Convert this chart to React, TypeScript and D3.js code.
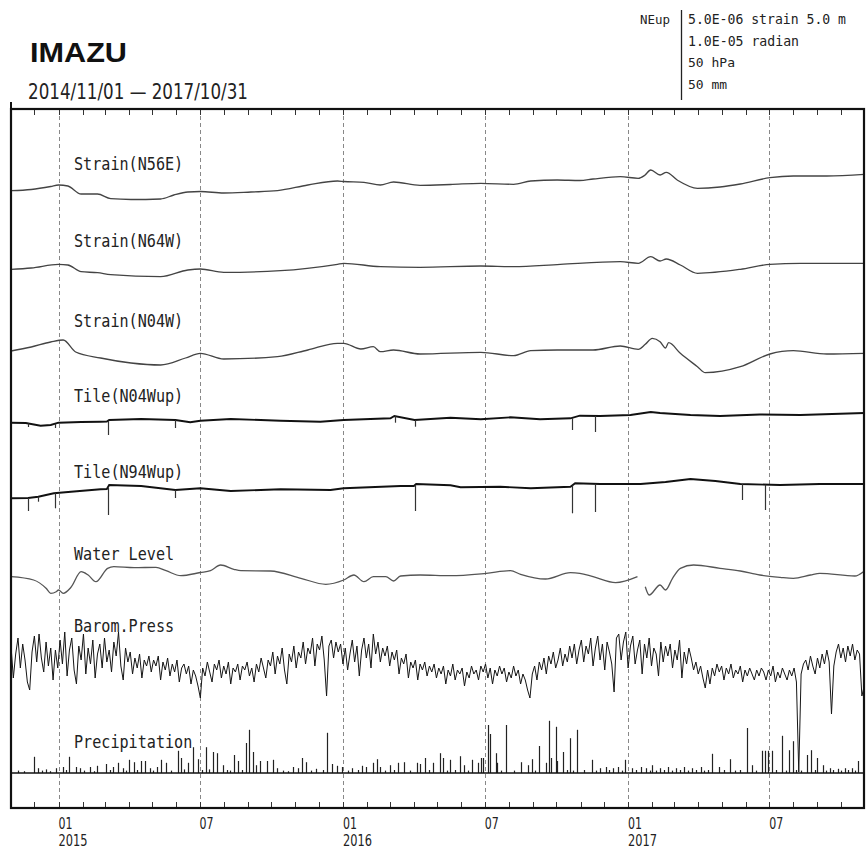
import React from "react";
import * as d3 from "d3";

type Pt = [string, number | null];

const PERIOD = ["2014-11-01", "2017-11-01"];
const TITLE = "IMAZU";
const RANGE_TEXT = "2014/11/01 — 2017/10/31";
const SCALE_LINES = ["5.0E-06 strain 5.0 m", "1.0E-05 radian", "50 hPa", "50 mm"];
const SCALE_WIDTHS = [158, 111, 0, 0];

const LABEL_DATES = ["2015-01-01", "2015-07-01", "2016-01-01", "2016-07-01", "2017-01-01", "2017-07-01"];
const LABEL_MONTHS = ["01", "07", "01", "07", "01", "07"];
const LABEL_YEARS = ["2015", "", "2016", "", "2017", ""];

const PANEL_NAMES = ["Strain(N56E)", "Strain(N64W)", "Strain(N04W)", "Tile(N04Wup)", "Tile(N94Wup)", "Water Level", "Barom.Press", "Precipitation"];

// strain, 1e-6
const STRAIN_N56E: Pt[] = [
  ["2014-11-01", -0.57], ["2014-11-27", -0.45], ["2014-12-22", -0.15], ["2015-01-01", 0], ["2015-01-13", -0.1],
  ["2015-01-30", -0.9], ["2015-02-20", -0.9], ["2015-03-09", -1.37], ["2015-04-04", -1.45], ["2015-05-12", -1.4],
  ["2015-05-29", -1.0], ["2015-06-16", -0.7], ["2015-07-02", -0.65], ["2015-08-01", -0.8], ["2015-09-05", -0.7],
  ["2015-10-09", -0.57], ["2015-11-17", 0], ["2015-12-25", 0.4], ["2016-01-02", 0.35], ["2016-01-28", 0.27],
  ["2016-02-18", 0], ["2016-03-06", 0.3], ["2016-04-09", -0.03], ["2016-05-18", 0.05], ["2016-06-26", 0.17],
  ["2016-08-07", 0.07], ["2016-08-29", 0.4], ["2016-10-02", 0.5], ["2016-10-31", 0.45], ["2016-11-17", 0.6],
  ["2016-12-22", 0.83], ["2017-01-14", 0.67], ["2017-01-22", 0.95], ["2017-01-30", 1.5], ["2017-02-11", 1.0],
  ["2017-02-19", 1.27], ["2017-03-05", 0.5], ["2017-03-31", -0.33], ["2017-04-29", -0.2], ["2017-05-25", 0.1],
  ["2017-07-02", 0.73], ["2017-08-01", 0.9], ["2017-09-13", 0.9], ["2017-10-31", 1.07],
];
const STRAIN_N64W: Pt[] = [
  ["2014-11-01", -0.43], ["2014-11-27", -0.3], ["2015-01-01", 0.07], ["2015-01-13", 0], ["2015-01-30", -0.67],
  ["2015-02-20", -0.77], ["2015-03-09", -0.97], ["2015-05-12", -1.17], ["2015-06-16", -0.5], ["2015-07-02", -0.4],
  ["2015-08-01", -0.73], ["2015-10-13", -0.57], ["2015-12-25", 0.07], ["2016-01-02", 0.17], ["2016-02-18", -0.17],
  ["2016-04-09", -0.23], ["2016-06-26", -0.1], ["2016-08-07", -0.17], ["2016-10-06", 0.07], ["2016-12-22", 0.33],
  ["2017-01-14", 0.17], ["2017-01-30", 0.83], ["2017-02-11", 0.4], ["2017-02-19", 0.6], ["2017-03-09", 0],
  ["2017-03-31", -0.83], ["2017-05-25", -0.43], ["2017-07-02", 0.07], ["2017-08-10", 0.17], ["2017-10-31", 0.17],
];
const STRAIN_N04W: Pt[] = [
  ["2014-11-01", 0.2], ["2014-11-27", 0.6], ["2014-12-22", 1.1], ["2015-01-07", 1.3], ["2015-01-23", 0.1],
  ["2015-02-24", -0.5], ["2015-04-04", -1.0], ["2015-05-12", -1.2], ["2015-06-13", -0.5], ["2015-07-02", -0.03],
  ["2015-08-01", -0.6], ["2015-10-09", -0.37], ["2015-11-17", 0.3], ["2015-12-25", 0.97], ["2016-01-02", 0.97],
  ["2016-01-24", 0.4], ["2016-02-09", 0.63], ["2016-02-18", 0.13], ["2016-03-06", 0.3], ["2016-04-09", -0.1],
  ["2016-06-26", 0.07], ["2016-08-07", -0.27], ["2016-08-29", 0.23], ["2016-10-02", 0.3], ["2016-11-17", 0.3],
  ["2016-12-22", 0.7], ["2017-01-14", 0.37], ["2017-01-23", 0.87], ["2017-02-01", 1.47], ["2017-02-11", 1.13],
  ["2017-02-18", 0.5], ["2017-02-22", 1.03], ["2017-03-09", -0.03], ["2017-03-31", -1.37], ["2017-04-10", -1.97],
  ["2017-05-25", -1.37], ["2017-07-02", -0.1], ["2017-08-01", 0.23], ["2017-09-13", -0.1], ["2017-10-31", -0.03],
];

// tilt, 1e-6 rad
const TILT_N04W: Pt[] = [
  ["2014-11-01", -0.54], ["2014-11-20", -0.6], ["2014-12-09", -1.14], ["2014-12-22", -1.0], ["2015-01-01", -0.54],
  ["2015-01-30", -0.4], ["2015-02-24", -0.34], ["2015-03-04", -0.3], ["2015-03-07", 0], ["2015-04-17", 0.2],
  ["2015-05-31", 0], ["2015-06-19", -0.46], ["2015-07-02", -0.14], ["2015-08-10", 0.2], ["2015-10-13", -0.14],
  ["2015-12-03", -0.34], ["2016-01-02", 0], ["2016-03-02", 0.34], ["2016-03-07", 0.8], ["2016-04-02", 0],
  ["2016-05-18", 0.46], ["2016-06-26", 0.14], ["2016-08-03", 0.54], ["2016-09-10", 0.14], ["2016-10-19", 0.34],
  ["2016-10-31", 0.86], ["2016-11-26", 0.8], ["2017-01-04", 1.0], ["2017-01-30", 1.6], ["2017-02-11", 1.4],
  ["2017-03-22", 1.0], ["2017-04-29", 0.8], ["2017-06-19", 1.1], ["2017-08-10", 1.0], ["2017-10-31", 1.4],
];
const TILT_N04W_SPIKES: [string, number][] = [
  ["2014-11-23", -1.4], ["2014-12-27", -1.6], ["2015-03-05", -3.0], ["2015-05-31", -1.6],
  ["2016-03-08", -0.54], ["2016-04-02", -1.34], ["2016-10-21", -2.0], ["2016-11-20", -2.4],
];
const TILT_N94W: Pt[] = [
  ["2014-11-01", -2.06], ["2014-11-23", -2.0], ["2014-12-06", -1.74], ["2014-12-16", -1.4], ["2014-12-26", -1.06],
  ["2015-01-17", -0.74], ["2015-02-24", -0.26], ["2015-03-04", -0.2], ["2015-03-07", 0.6], ["2015-04-17", 0.4],
  ["2015-05-31", -0.4], ["2015-07-02", -0.06], ["2015-08-10", -0.6], ["2015-10-13", -0.26], ["2015-12-16", -0.4],
  ["2016-01-02", -0.06], ["2016-03-15", 0.4], ["2016-04-01", 0.4], ["2016-04-04", 0.8], ["2016-05-18", 0.54],
  ["2016-05-31", 0.14], ["2016-07-21", 0.26], ["2016-08-29", -0.06], ["2016-10-19", 0.26], ["2016-10-25", 0.94],
  ["2016-11-26", 0.8], ["2017-01-17", 0.8], ["2017-02-18", 1.2], ["2017-03-22", 1.8], ["2017-04-23", 1.4],
  ["2017-05-25", 0.8], ["2017-07-15", 0.6], ["2017-09-04", 0.8], ["2017-10-31", 0.8],
];
const TILT_N94W_SPIKES: [string, number][] = [
  ["2014-11-23", -4.6], ["2014-12-06", -2.74], ["2014-12-27", -4.06], ["2015-03-05", -5.4], ["2015-05-31", -2.0],
  ["2016-04-02", -4.6], ["2016-10-21", -5.06], ["2016-11-20", -4.8], ["2017-05-27", -2.4], ["2017-06-26", -4.4],
];

// water level, m
const WATER_LEVEL: Pt[] = [
  ["2014-11-01", -0.17], ["2014-11-30", -0.5], ["2014-12-16", -1.33], ["2014-12-22", -1.83], ["2014-12-29", -1.67],
  ["2015-01-01", -1.5], ["2015-01-07", -1.83], ["2015-01-17", -1.23], ["2015-01-30", 0.33], ["2015-02-08", 0],
  ["2015-02-18", -0.67], ["2015-03-05", 0.67], ["2015-03-13", 0.83], ["2015-04-08", 0.73], ["2015-05-06", 0.77],
  ["2015-05-19", 0.43], ["2015-06-07", -0.07], ["2015-07-02", 0.25], ["2015-07-15", 0.43], ["2015-07-28", 1.0],
  ["2015-08-14", 0.57], ["2015-08-23", 0.43], ["2015-09-30", 0.4], ["2015-11-08", -0.33], ["2015-12-10", -0.93],
  ["2016-01-02", -0.5], ["2016-01-15", 0], ["2016-01-28", -0.67], ["2016-02-09", -0.17], ["2016-02-25", -0.17],
  ["2016-03-06", -0.6], ["2016-03-15", -0.1], ["2016-04-09", 0], ["2016-05-18", -0.07], ["2016-07-03", 0.17],
  ["2016-08-03", 0.43], ["2016-08-16", 0.07], ["2016-09-17", -0.4], ["2016-10-19", 0.23], ["2016-10-31", 0.17],
  ["2016-11-17", -0.17], ["2016-12-16", -0.77], ["2017-01-13", -0.17], ["2017-01-18", null], ["2017-01-23", -1.17],
  ["2017-01-28", -2.0], ["2017-02-11", -1.0], ["2017-02-18", -1.5], ["2017-02-27", -0.33], ["2017-03-09", 0.67],
  ["2017-03-26", 1.0], ["2017-04-29", 0.67], ["2017-05-25", 0.4], ["2017-06-19", 0], ["2017-07-15", -0.23],
  ["2017-08-01", -0.33], ["2017-08-23", 0], ["2017-09-04", 0.17], ["2017-10-19", -0.1], ["2017-10-30", 0.33],
];

// barometric pressure, hPa, one reading every 3 days from 2014-11-01
const BAROM_START = "2014-11-01";
const BAROM_STEP_DAYS = 3;
const BAROM_HPA = [
  1020, 1004, 1016, 1024, 1009, 1021, 1013, 1002, 998, 1017, 1025, 1012, 1026, 1014, 1007, 1022, 1010, 1019, 1003, 1018,
  1009, 1023, 1011, 1027, 1005, 1018, 1024, 1008, 1001, 1020, 1013, 1026, 1006, 1019, 1011, 1023, 1004, 1016, 1021, 1009,
  1024, 1012, 1018, 1007, 1022, 1015, 1027, 1010, 1003, 1019, 1012, 1017, 1006, 1014, 1009, 1016, 1004, 1013, 1010, 1015,
  1007, 1013, 1010, 1015, 1003, 1012, 1008, 1014, 1005, 1011, 1007, 1013, 1002, 1009, 1011, 1006, 1010, 1001, 1008, 1005,
  1000, 994, 1009, 1005, 1012, 1007, 1002, 1011, 1008, 1013, 1004, 1010, 1006, 1012, 1001, 1009, 1007, 1011, 1003, 1010,
  1008, 1012, 1005, 1009, 1002, 1011, 1007, 1014, 1009, 1004, 1013, 1010, 1017, 1006, 1015, 1011, 1019, 1008, 1001, 1016,
  1012, 1020, 1009, 1017, 1014, 1022, 1011, 1019, 1016, 1024, 1010, 1021, 1018, 1025, 1013, 995, 1020, 1023, 1014, 1022,
  1017, 1021, 1011, 1019, 1008, 1016, 1023, 1012, 1020, 1005, 1018, 1024, 1014, 1021, 1009, 1026, 1016, 1022, 1012, 1019,
  1015, 1020, 1010, 1017, 1013, 1018, 1006, 1014, 1011, 1016, 1004, 1012, 1009, 1013, 1003, 1011, 1008, 1012, 1005, 1010,
  1007, 1011, 1004, 1009, 1006, 1010, 1001, 1008, 1005, 1011, 1003, 1008, 1006, 1009, 1000, 1007, 1004, 1010, 1006, 1008,
  1003, 1010, 1007, 1011, 1004, 1009, 1001, 1008, 1005, 1010, 1006, 1009, 1002, 1007, 1004, 1010, 1005, 1008, 1001, 1006,
  1003, 998, 994, 1006, 1010, 1003, 1012, 1008, 1014, 1006, 1015, 1011, 1017, 1009, 1013, 1019, 1010, 1016, 1012, 1020,
  1014, 1021, 1011, 1018, 1023, 1012, 1020, 1016, 1024, 1010, 1019, 1025, 1013, 1021, 1008, 1022, 1017, 1011, 997, 1024,
  1026, 1013, 1022, 1027, 1009, 1020, 1025, 1011, 1018, 1023, 1006, 1021, 1014, 1024, 1010, 1019, 1016, 1005, 1022, 1012,
  1020, 1015, 1021, 1009, 1018, 1013, 1023, 1004, 1017, 1011, 1019, 1014, 1008, 1012, 1006, 1010, 1004, 999, 1008, 1001,
  1009, 1005, 1011, 1007, 1010, 1003, 1009, 1006, 1011, 1004, 1008, 1006, 1010, 1002, 1008, 1005, 1009, 1006, 1003, 1008,
  1005, 1009, 1007, 1003, 1008, 1005, 1010, 1002, 1007, 1004, 1009, 1006, 1003, 1008, 1005, 1009, 1002, 957, 1006, 1011,
  1013, 1008, 1015, 1010, 1006, 1014, 1009, 1016, 1011, 1018, 1012, 986, 1010, 1017, 1021, 1014, 1019, 1012, 1020, 1015,
  1021, 1013, 1018, 1016, 995, 1000,
];

// daily precipitation, mm
const PRECIP: [string, number][] = [
  ["2014-11-10", 4], ["2014-11-18", 3], ["2014-11-30", 27], ["2014-12-06", 8], ["2014-12-11", 4], ["2014-12-16", 6],
  ["2014-12-21", 3], ["2014-12-29", 8], ["2015-01-07", 10], ["2015-01-11", 5], ["2015-01-15", 27], ["2015-01-23", 10],
  ["2015-01-29", 8], ["2015-02-03", 4], ["2015-02-11", 10], ["2015-02-15", 3], ["2015-02-20", 12], ["2015-03-03", 15],
  ["2015-03-08", 5], ["2015-03-12", 10], ["2015-03-18", 17], ["2015-03-25", 8], ["2015-03-29", 4], ["2015-04-01", 22],
  ["2015-04-08", 18], ["2015-04-12", 5], ["2015-04-17", 20], ["2015-04-22", 20], ["2015-04-29", 8], ["2015-05-02", 4],
  ["2015-05-07", 10], ["2015-05-12", 22], ["2015-05-19", 17], ["2015-05-25", 4], ["2015-06-03", 37], ["2015-06-07", 25],
  ["2015-06-11", 6], ["2015-06-16", 17], ["2015-06-22", 43], ["2015-06-29", 23], ["2015-07-04", 5], ["2015-07-09", 43],
  ["2015-07-13", 6], ["2015-07-18", 35], ["2015-07-23", 33], ["2015-07-31", 13], ["2015-08-05", 5], ["2015-08-09", 4],
  ["2015-08-14", 30], ["2015-08-19", 20], ["2015-08-24", 5], ["2015-08-29", 50], ["2015-09-02", 72], ["2015-09-07", 35],
  ["2015-09-12", 13], ["2015-09-17", 20], ["2015-09-25", 20], ["2015-10-03", 22], ["2015-10-09", 8], ["2015-10-16", 4],
  ["2015-10-22", 3], ["2015-10-29", 10], ["2015-11-04", 8], ["2015-11-10", 25], ["2015-11-15", 18], ["2015-11-21", 4],
  ["2015-11-27", 7], ["2015-12-06", 5], ["2015-12-12", 67], ["2015-12-18", 15], ["2015-12-25", 12], ["2015-12-31", 10],
  ["2016-01-07", 4], ["2016-01-13", 8], ["2016-01-20", 5], ["2016-01-26", 12], ["2016-01-30", 10], ["2016-02-08", 17],
  ["2016-02-14", 23], ["2016-02-18", 10], ["2016-02-24", 4], ["2016-03-02", 13], ["2016-03-07", 5], ["2016-03-12", 17],
  ["2016-03-20", 18], ["2016-03-27", 4], ["2016-04-05", 17], ["2016-04-09", 15], ["2016-04-15", 25], ["2016-04-20", 5],
  ["2016-04-25", 17], ["2016-05-04", 33], ["2016-05-09", 25], ["2016-05-13", 4], ["2016-05-17", 22], ["2016-05-24", 5],
  ["2016-05-30", 28], ["2016-06-04", 13], ["2016-06-10", 4], ["2016-06-15", 22], ["2016-06-22", 17], ["2016-06-26", 25],
  ["2016-06-29", 25], ["2016-07-05", 80], ["2016-07-08", 65], ["2016-07-15", 33], ["2016-07-17", 17], ["2016-07-22", 4],
  ["2016-07-28", 80], ["2016-08-08", 4], ["2016-08-16", 18], ["2016-08-25", 13], ["2016-08-31", 23], ["2016-09-04", 4],
  ["2016-09-09", 45], ["2016-09-17", 17], ["2016-09-21", 87], ["2016-09-24", 25], ["2016-09-30", 77], ["2016-10-02", 20],
  ["2016-10-10", 35], ["2016-10-14", 5], ["2016-10-18", 58], ["2016-10-22", 4], ["2016-10-28", 72], ["2016-11-06", 5],
  ["2016-11-16", 22], ["2016-11-21", 4], ["2016-11-26", 8], ["2016-12-04", 10], ["2016-12-08", 5], ["2016-12-12", 8],
  ["2016-12-19", 10], ["2016-12-24", 4], ["2016-12-28", 22], ["2017-01-06", 8], ["2017-01-11", 5], ["2017-01-17", 10],
  ["2017-01-24", 8], ["2017-01-29", 4], ["2017-02-01", 13], ["2017-02-06", 4], ["2017-02-11", 8], ["2017-02-16", 5],
  ["2017-02-21", 10], ["2017-02-26", 4], ["2017-03-04", 8], ["2017-03-09", 5], ["2017-03-14", 10], ["2017-03-19", 4],
  ["2017-03-24", 8], ["2017-03-29", 5], ["2017-04-04", 10], ["2017-04-09", 4], ["2017-04-14", 5], ["2017-04-19", 32],
  ["2017-04-27", 10], ["2017-05-04", 5], ["2017-05-12", 23], ["2017-05-18", 4], ["2017-05-25", 5], ["2017-06-03", 75],
  ["2017-06-09", 13], ["2017-06-14", 4], ["2017-06-22", 37], ["2017-06-26", 37], ["2017-06-30", 37], ["2017-07-05", 37],
  ["2017-07-10", 5], ["2017-07-18", 62], ["2017-07-22", 4], ["2017-07-27", 38], ["2017-07-31", 53], ["2017-08-04", 5],
  ["2017-08-11", 4], ["2017-08-19", 30], ["2017-08-24", 38], ["2017-08-29", 5], ["2017-09-01", 25], ["2017-09-08", 13],
  ["2017-09-12", 4], ["2017-09-17", 8], ["2017-09-21", 5], ["2017-09-27", 7], ["2017-10-01", 4], ["2017-10-06", 8],
  ["2017-10-10", 5], ["2017-10-15", 8], ["2017-10-19", 4], ["2017-10-23", 20],
];

const parse = d3.timeParse("%Y-%m-%d");
const P = (s: string) => parse(s) as Date;

function valueAt(series: Pt[], date: Date): number {
  const pts = series.filter((d) => d[1] != null) as [string, number][];
  const t = date.getTime();
  for (let i = 0; i < pts.length - 1; i++) {
    const a = P(pts[i][0]).getTime();
    const b = P(pts[i + 1][0]).getTime();
    if (t >= a && t <= b) {
      const f = b === a ? 0 : (t - a) / (b - a);
      return pts[i][1] + f * (pts[i + 1][1] - pts[i][1]);
    }
  }
  return pts[pts.length - 1][1];
}

export default function App() {
  const L = 11, R = 865, TOP = 109, BOT = 808, PRECIP_BASE = 773;
  const x = d3.scaleTime().domain([P(PERIOD[0]), P(PERIOD[1])]).range([L, R]);
  const lin = (base: number, ppu: number, v0 = 0) => d3.scaleLinear().domain([v0, v0 + 1]).range([base, base - ppu]);

  const yN56E = lin(185, 10);
  const yN64W = lin(265, 10);
  const yN04W = lin(353, 10);
  const yT1 = lin(420, 5);
  const yT2 = lin(488, 5);
  const yWL = lin(575, 10);
  const yBP = lin(660, 2, 1013);
  const yPR = d3.scaleLinear().domain([0, 50]).range([PRECIP_BASE, PRECIP_BASE - 30]);

  const mk = (ys: d3.ScaleLinear<number, number>, curve: d3.CurveFactory) =>
    d3.line<Pt>().defined((d) => d[1] != null).x((d) => x(P(d[0]))).y((d) => ys(d[1] as number)).curve(curve);

  const baromStart = P(BAROM_START);
  const baromPts: [Date, number][] = BAROM_HPA.map((v, i) => [d3.timeDay.offset(baromStart, i * BAROM_STEP_DAYS), v]);
  const baromPath = d3.line<[Date, number]>().x((d) => x(d[0])).y((d) => yBP(d[1]))(baromPts) || "";

  const months = d3.timeMonth.range(P(PERIOD[0]), P(PERIOD[1]));
  const monthTicks = months.slice(1);

  const labelYs = [170, 247, 327, 402, 478, 560, 632, 748];
  const mono = "'DejaVu Sans Mono', monospace";
  const sans = "'DejaVu Sans', sans-serif";

  const spikes = (series: Pt[], list: [string, number][], ys: d3.ScaleLinear<number, number>, key: string) =>
    list.map(([d, v], i) => {
      const dt = P(d);
      const X = Math.round(x(dt)) + 0.5;
      return <line key={key + i} x1={X} x2={X} y1={ys(valueAt(series, dt))} y2={ys(v)} stroke="#333" strokeWidth={1.2} />;
    });

  return (
    <svg width={866} height={852} style={{ position: "absolute", left: 0, top: 0, background: "#fff" }}>
      <rect x={0} y={0} width={866} height={852} fill="#fff" />
      {/* header */}
      <text x={30} y={62} fontFamily="'Liberation Sans', Arial, sans-serif" fontWeight="bold" fontSize={28} textLength={97} lengthAdjust="spacingAndGlyphs" fill="#111">{TITLE}</text>
      <text x={28} y={99} fontFamily={sans} fontSize={21} textLength={220} lengthAdjust="spacingAndGlyphs" fill="#222">{RANGE_TEXT}</text>
      <text x={640} y={24} fontFamily={mono} fontSize={13} textLength={30} lengthAdjust="spacingAndGlyphs" fill="#222">NEup</text>
      <line x1={681.5} x2={681.5} y1={10} y2={100} stroke="#222" strokeWidth={1.3} />
      {SCALE_LINES.map((s, i) =>
        SCALE_WIDTHS[i] > 0 ? (
          <text key={s} x={688} y={24 + i * 21.5} fontFamily={mono} fontSize={13.5} textLength={SCALE_WIDTHS[i]} lengthAdjust="spacingAndGlyphs" fill="#222">{s}</text>
        ) : (
          <text key={s} x={688} y={24 + i * 21.5} fontFamily={mono} fontSize={13} fill="#222">{s}</text>
        )
      )}

      {/* gridlines */}
      {LABEL_DATES.map((d) => {
        const X = Math.round(x(P(d))) + 0.5;
        return <line key={"g" + d} x1={X} x2={X} y1={TOP} y2={BOT} stroke="#888" strokeWidth={1} strokeDasharray="4,3" />;
      })}

      {/* monthly ticks */}
      {monthTicks.map((m) => {
        const X = Math.round(x(m)) + 0.5;
        return (
          <g key={"t" + m.getTime()}>
            <line x1={X} x2={X} y1={TOP} y2={TOP + 6} stroke="#333" strokeWidth={1} />
            <line x1={X} x2={X} y1={BOT} y2={BOT - 6} stroke="#333" strokeWidth={1} />
          </g>
        );
      })}

      {/* panel labels */}
      {PANEL_NAMES.map((n, i) => (
        <text key={n} x={74} y={labelYs[i]} fontFamily={mono} fontSize={18} textLength={n.length * 9.1} lengthAdjust="spacingAndGlyphs" fill="#222">{n}</text>
      ))}

      {/* traces */}
      <path d={mk(yN56E, d3.curveMonotoneX)(STRAIN_N56E) || ""} fill="none" stroke="#444" strokeWidth={1.3} />
      <path d={mk(yN64W, d3.curveMonotoneX)(STRAIN_N64W) || ""} fill="none" stroke="#444" strokeWidth={1.3} />
      <path d={mk(yN04W, d3.curveMonotoneX)(STRAIN_N04W) || ""} fill="none" stroke="#444" strokeWidth={1.3} />
      <path d={mk(yT1, d3.curveLinear)(TILT_N04W) || ""} fill="none" stroke="#111" strokeWidth={1.9} />
      {spikes(TILT_N04W, TILT_N04W_SPIKES, yT1, "s1")}
      <path d={mk(yT2, d3.curveLinear)(TILT_N94W) || ""} fill="none" stroke="#111" strokeWidth={1.9} />
      {spikes(TILT_N94W, TILT_N94W_SPIKES, yT2, "s2")}
      <path d={mk(yWL, d3.curveMonotoneX)(WATER_LEVEL) || ""} fill="none" stroke="#555" strokeWidth={1.3} />
      <path d={baromPath} fill="none" stroke="#151515" strokeWidth={1} />

      {PRECIP.map(([d, v]) => {
        const X = Math.round(x(P(d))) + 0.5;
        return <line key={"p" + d} x1={X} x2={X} y1={PRECIP_BASE} y2={yPR(v)} stroke="#222" strokeWidth={1.2} />;
      })}
      <line x1={L} x2={R} y1={PRECIP_BASE} y2={PRECIP_BASE} stroke="#111" strokeWidth={1.5} />

      {/* frame */}
      <line x1={L} x2={L} y1={102} y2={TOP} stroke="#111" strokeWidth={2} />
      <rect x={L} y={TOP} width={R - L - 1} height={BOT - TOP} fill="none" stroke="#111" strokeWidth={2.2} />

      {/* x labels */}
      {LABEL_DATES.map((d, i) => {
        const X = x(P(d));
        return (
          <g key={"l" + d}>
            <text x={X} y={829} fontFamily={sans} fontSize={15} textLength={14} lengthAdjust="spacingAndGlyphs" fill="#222">{LABEL_MONTHS[i]}</text>
            {LABEL_YEARS[i] && (
              <text x={X} y={846} fontFamily={sans} fontSize={15} textLength={29} lengthAdjust="spacingAndGlyphs" fill="#222">{LABEL_YEARS[i]}</text>
            )}
          </g>
        );
      })}
    </svg>
  );
}
